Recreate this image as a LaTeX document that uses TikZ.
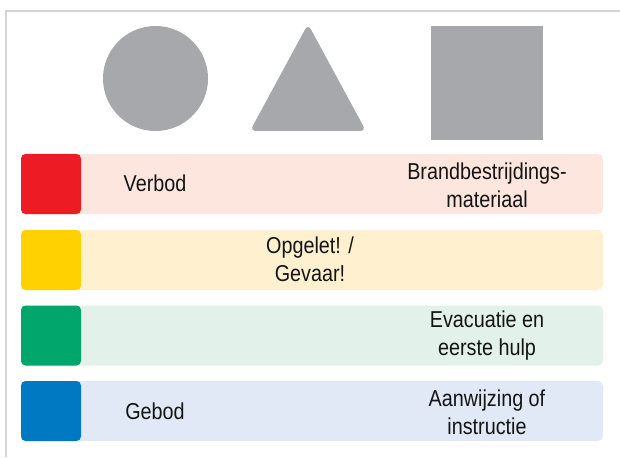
\documentclass[tikz,border=0pt]{standalone}
\usepackage{fontspec}
\setmainfont[FakeStretch=0.86]{Liberation Sans}
\definecolor{shapegrey}{HTML}{A7A8AB}
\definecolor{framegrey}{HTML}{D4D4D4}
\definecolor{cred}{HTML}{ED1C24}
\definecolor{bred}{HTML}{FDE6DD}
\definecolor{cyel}{HTML}{FFD100}
\definecolor{byel}{HTML}{FFF1D0}
\definecolor{cgrn}{HTML}{00A66B}
\definecolor{bgrn}{HTML}{E2F1EA}
\definecolor{cblu}{HTML}{0079C2}
\definecolor{bblu}{HTML}{E0E9F5}
\tikzset{
  band/.style={rounded corners=5pt},
  swatch/.style={rounded corners=4.5pt},
  lbl/.style={align=center, font=\fontsize{23}{28}\selectfont, inner sep=0pt, text=black!92}
}
\begin{document}
\begin{tikzpicture}[x=1pt,y=-1pt]
\useasboundingbox (0,0) rectangle (620,457);
% frame
\draw[framegrey, line width=1.5pt] (6,457) -- (6,11) -- (620,11);
% shapes
\fill[shapegrey] (155.5,78.5) circle (52.5);
\fill[shapegrey, rounded corners=6pt] (308,24) -- (366,131) -- (250,131) -- cycle;
\fill[shapegrey] (431,26) rectangle (543,140);
% rows
\fill[bred, band] (21,154) rectangle (603,214);
\fill[cred, swatch] (21,154) rectangle (81,214);
\fill[byel, band] (21,230) rectangle (603,290);
\fill[cyel, swatch] (21,230) rectangle (81,290);
\fill[bgrn, band] (21,305.5) rectangle (603,365.5);
\fill[cgrn, swatch] (21,305.5) rectangle (81,365.5);
\fill[bblu, band] (21,381) rectangle (603,441);
\fill[cblu, swatch] (21,381) rectangle (81,441);
% labels
\node[lbl] (verbod) at (155,183) {Verbod};
\node[lbl] (brand) at (487,185) {Brandbestrijdings-\\materiaal};
\node[lbl] (opgelet) at (310,259) {Opgelet! /\\Gevaar!};
\node[lbl] (evac) at (487,336) {Evacuatie en\\eerste hulp};
\node[lbl] (gebod) at (155,411) {Gebod};
\node[lbl] (aanw) at (487,412) {Aanwijzing of\\instructie};
\end{tikzpicture}
\end{document}
